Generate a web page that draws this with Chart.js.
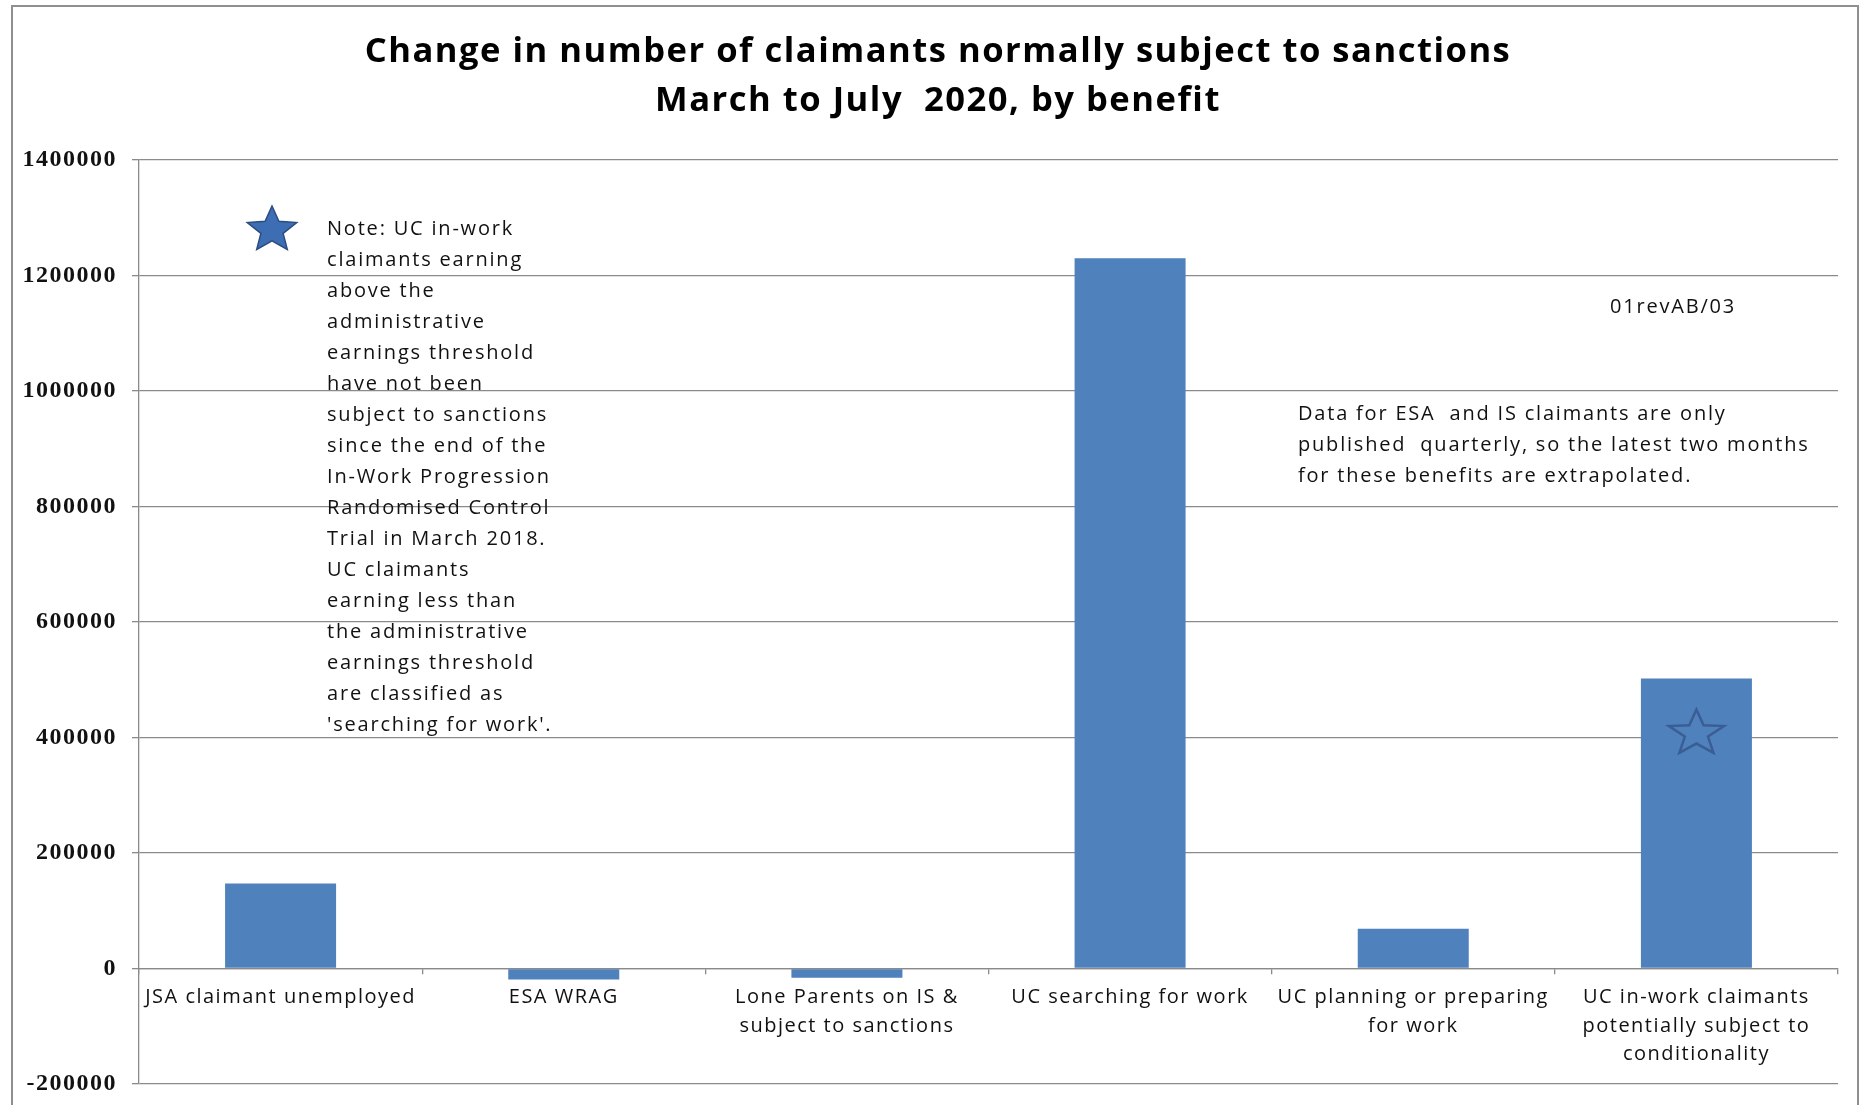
<!DOCTYPE html>
<html>
<head>
<meta charset="utf-8">
<title>Change in number of claimants normally subject to sanctions</title>
<script src="https://cdn.jsdelivr.net/npm/chart.js@4.4.1/dist/chart.umd.min.js"></script>
<style>
  html, body { margin: 0; padding: 0; background: #fff; }
  #wrap { position: relative; width: 1863px; height: 1105px; }
</style>
</head>
<body>
<div id="wrap"><canvas id="chart"></canvas></div>
<script>
// categories, split into lines like the original axis labels
const categories = [
  ["JSA claimant unemployed"],
  ["ESA WRAG"],
  ["Lone Parents on IS &", "subject to sanctions"],
  ["UC searching for work"],
  ["UC planning or preparing", "for work"],
  ["UC in-work claimants", "potentially subject to", "conditionality"]
];
// change in claimants March -> July 2020
const changeValues = [147000, -19000, -16000, 1230000, 69000, 502000];
const yTicks = [-200000, 0, 200000, 400000, 600000, 800000, 1000000, 1200000, 1400000];

const titleLines = [
  "Change in number of claimants normally subject to sanctions",
  "March to July  2020, by benefit"
];
const noteLines = [
  "Note: UC in-work",
  "claimants earning",
  "above the",
  "administrative",
  "earnings threshold",
  "have not been",
  "subject to sanctions",
  "since the end of the",
  "In-Work Progression",
  "Randomised Control",
  "Trial in March 2018.",
  "UC claimants",
  "earning less than",
  "the administrative",
  "earnings threshold",
  "are classified as",
  "'searching for work'."
];
const esaNoteLines = [
  "Data for ESA  and IS claimants are only",
  "published  quarterly, so the latest two months",
  "for these benefits are extrapolated."
];
const refCode = "01revAB/03";

const GRID = "#8a8a8a";
const BAR = "#4f81bd";

function starPath(ctx, cx, cy, rx, ry, inner) {
  ctx.beginPath();
  for (let i = 0; i < 10; i++) {
    const a = -Math.PI / 2 + i * Math.PI / 5;
    const k = i % 2 === 0 ? 1 : inner;
    ctx.lineTo(cx + Math.cos(a) * rx * k, cy + Math.sin(a) * ry * k);
  }
  ctx.closePath();
}

// frame, title, letter spacing, stars and the text boxes
const extras = {
  id: "extras",
  beforeDraw(chart) {
    const ctx = chart.ctx;
    ctx.save();
    ctx.strokeStyle = "#8f8f8f";
    ctx.lineWidth = 2;
    ctx.strokeRect(12, 6, 1846, 1110);
    ctx.letterSpacing = "1.5px";
    ctx.fillStyle = "#000";
    ctx.textAlign = "center";
    ctx.textBaseline = "middle";
    ctx.font = "bold 34.6px 'Open Sans'";
    titleLines.forEach((t, i) => ctx.fillText(t, 938, 52.5 + i * 49));
    ctx.restore();
    ctx.letterSpacing = "1.5px";
  },
  afterDatasetsDraw(chart) {
    const ctx = chart.ctx;
    const x = chart.scales.x, y = chart.scales.y;
    // outline star inside the in-work bar
    ctx.save();
    starPath(ctx, x.getPixelForValue(5), y.getPixelForValue(407000), 29, 24, 0.42);
    ctx.strokeStyle = "#3a5e93";
    ctx.lineWidth = 2.5;
    ctx.stroke();
    // filled star next to the note
    starPath(ctx, 272, 230, 26, 24, 0.45);
    ctx.fillStyle = "#3d6db3";
    ctx.fill();
    ctx.strokeStyle = "#2b4c80";
    ctx.lineWidth = 1.5;
    ctx.stroke();
    ctx.restore();
  },
  afterDraw(chart) {
    const ctx = chart.ctx;
    ctx.save();
    ctx.letterSpacing = "1.8px";
    ctx.fillStyle = "#111";
    ctx.textBaseline = "middle";
    ctx.textAlign = "left";
    ctx.font = "20px 'Open Sans'";
    noteLines.forEach((t, i) => ctx.fillText(t, 327, 229 + i * 31));
    esaNoteLines.forEach((t, i) => ctx.fillText(t, 1298, 414 + i * 31));
    ctx.fillText(refCode, 1610, 307);
    ctx.restore();
  }
};

new Chart(document.getElementById("chart"), {
  type: "bar",
  data: {
    labels: categories,
    datasets: [{
      data: changeValues,
      backgroundColor: BAR,
      borderWidth: 0,
      barPercentage: 0.392,
      categoryPercentage: 1.0
    }]
  },
  options: {
    responsive: true,
    maintainAspectRatio: false,
    animation: false,
    events: [],
    layout: { padding: { left: 0, right: 25, top: 160, bottom: 21 } },
    plugins: {
      legend: { display: false },
      tooltip: { enabled: false },
      title: { display: false }
    },
    scales: {
      x: {
        position: { y: 0 },
        grid: { display: true, drawOnChartArea: false, drawTicks: true, tickLength: 5, color: GRID, lineWidth: 1.3, offset: true },
        border: { display: true, color: GRID, width: 1.3 },
        ticks: {
          color: "#111",
          font: { family: "'Open Sans'", size: 20, lineHeight: 1.425 },
          padding: 10,
          maxRotation: 0,
          minRotation: 0,
          autoSkip: false
        }
      },
      y: {
        min: -200000,
        max: 1400000,
        afterBuildTicks(scale) { scale.ticks = yTicks.map(v => ({ value: v })); },
        afterFit(scale) { scale.width = 139; },
        grid: { color: GRID, lineWidth: 1.3, drawTicks: true, tickLength: 7 },
        border: { display: true, color: GRID, width: 1.3 },
        ticks: {
          color: "#111",
          font: { family: "'Liberation Serif'", size: 24, weight: "bold", lineHeight: 0.5 },
          padding: 15,
          callback: v => String(v)
        }
      }
    }
  },
  plugins: [extras]
});
</script>
</body>
</html>
